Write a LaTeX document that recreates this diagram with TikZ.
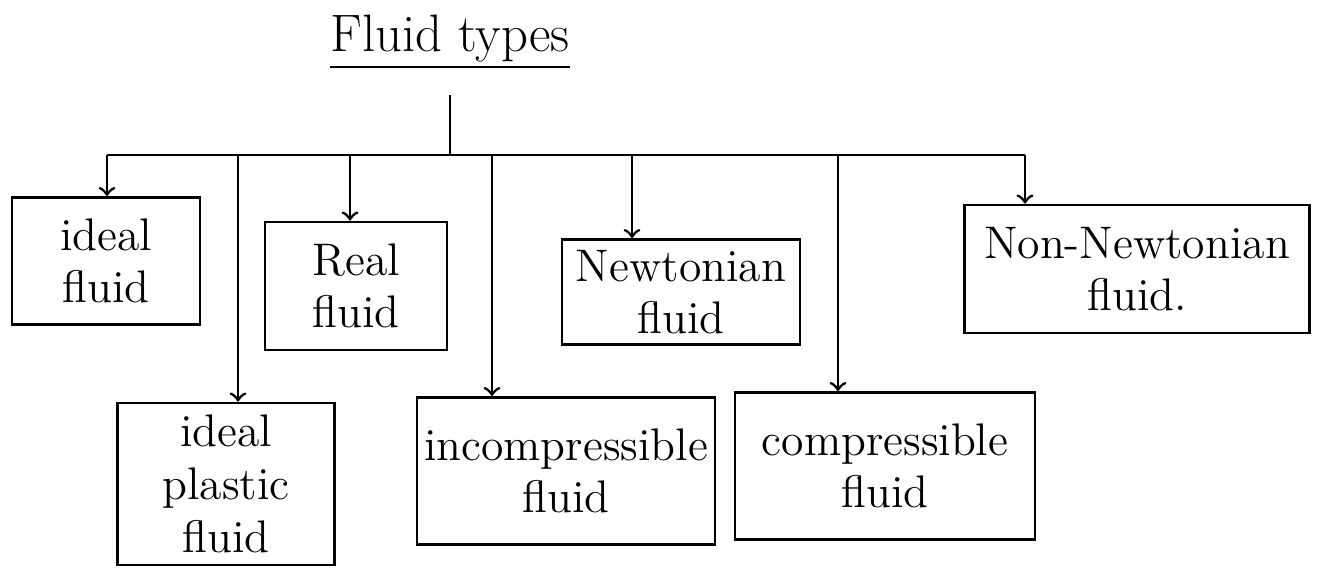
\documentclass[tikz,border=0pt]{standalone}
\usepackage{tikz}
\usetikzlibrary{positioning,calc,arrows}
\newcommand{\fsz}{\fontsize{13}{15}\selectfont}
\tikzset{fbox/.style={draw,thick,align=center,inner sep=2pt,font=\fsz}}

\begin{document}
\begin{tikzpicture}[auto]
\useasboundingbox (0,0) rectangle (13.22,-5.69);
\node (T) at (4.5,-0.42) {\fontsize{15}{17}\selectfont\underline{Fluid types}};
\coordinate (T0) at (4.5,-0.95);
\coordinate (B) at (4.5,-1.55);
% upper row of boxes
\node[fbox,minimum width=1.88cm,minimum height=1.27cm] (ideal) at (1.06,-2.61) {ideal\\fluid};
\node[fbox,minimum width=1.82cm,minimum height=1.28cm] (real) at (3.56,-2.86) {Real\\fluid};
\node[fbox,minimum width=2.38cm,minimum height=1.05cm] (newt) at (6.81,-2.92) {Newtonian\\fluid};
\node[fbox,minimum width=3.45cm,minimum height=1.28cm] (nonnewt) at (11.37,-2.69) {Non-Newtonian\\fluid.};
% lower row of boxes
\node[fbox,minimum width=2.17cm,minimum height=1.62cm] (plastic) at (2.26,-4.84) {ideal\\plastic\\fluid};
\node[fbox,minimum width=2.97cm,minimum height=1.47cm] (incomp) at (5.66,-4.71) {incompressible\\fluid};
\node[fbox,minimum width=3.00cm,minimum height=1.47cm] (comp) at (8.85,-4.66) {compressible\\fluid};
% branch points on the bus
\coordinate (b1) at (1.07,-1.55);
\coordinate (b2) at (2.38,-1.55);
\coordinate (b3) at (3.50,-1.55);
\coordinate (b4) at (4.92,-1.55);
\coordinate (b5) at (6.32,-1.55);
\coordinate (b6) at (8.38,-1.55);
\coordinate (b7) at (10.25,-1.55);
\draw [thick] (T0) -- (B);
\draw [thick] (b1) -- (b7);
\draw [thick,->] (b1) -- (b1 |- ideal.north);
\draw [thick,->] (b2) -- (b2 |- plastic.north);
\draw [thick,->] (b3) -- (b3 |- real.north);
\draw [thick,->] (b4) -- (b4 |- incomp.north);
\draw [thick,->] (b5) -- (b5 |- newt.north);
\draw [thick,->] (b6) -- (b6 |- comp.north);
\draw [thick,->] (b7) -- (b7 |- nonnewt.north);
\end{tikzpicture}
\end{document}
